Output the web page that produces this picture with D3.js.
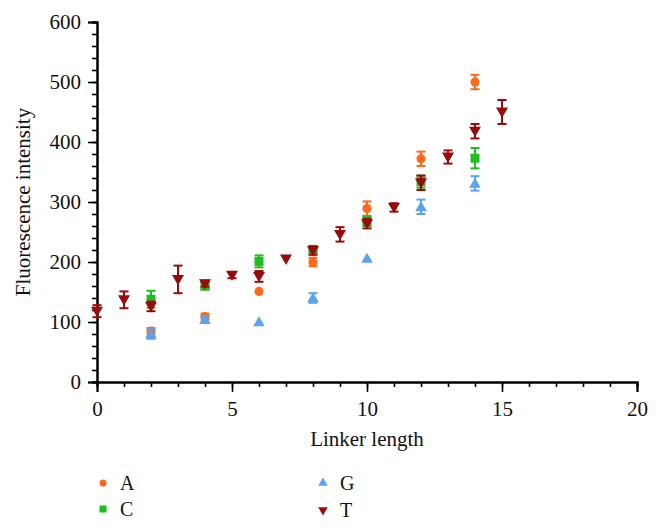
<!DOCTYPE html>
<html>
<head>
<meta charset="utf-8">
<script src="https://cdn.jsdelivr.net/npm/d3@7"></script>
<style>
  html, body { margin: 0; padding: 0; background: #fff; }
  svg { display: block; }
  text { font-family: "Liberation Serif", "DejaVu Serif", serif; fill: #111; }
</style>
</head>
<body>
<script>
// ---- data ----
const seriesNames = ["A", "C", "G", "T"];
const xACG = [2, 4, 6, 8, 10, 12, 14];
const xT = [0, 1, 2, 3, 4, 5, 6, 7, 8, 9, 10, 11, 12, 13, 14, 15];
const valA = [85, 109, 151, 200, 289, 372, 500];
const errA = [5, 5, 0, 7, 12, 12, 12];
const valC = [138, 160, 201, 221, 268, 334, 373];
const errC = [14, 6, 10, 5, 8, 10, 17];
const valG = [80, 104, 100, 140, 206, 292, 331];
const errG = [8, 5, 0, 8, 0, 12, 12];
const valT = [118, 137, 126, 171, 164, 178, 176, 205, 219, 246, 264, 291, 332, 375, 418, 450];
const errT = [10, 14, 8, 23, 5, 5, 9, 0, 7, 12, 8, 7, 12, 11, 12, 20];
const xTicks = [0, 5, 10, 15, 20];
const yTicks = [0, 100, 200, 300, 400, 500, 600];
const xLabel = "Linker length";
const yLabel = "Fluorescence intensity";

const colors = { A: "#ff6a1a", C: "#1fbd1f", G: "#5aa4ef", T: "#990a0a" };
const shapes = { A: d3.symbolCircle, C: d3.symbolSquare, G: d3.symbolTriangle, T: d3.symbolTriangle };
const rotate = { A: 0, C: 0, G: 0, T: 180 };
const sizes = { A: 66, C: 81, G: 58, T: 62 };

const series = [
  { name: "A", xs: xACG, vals: valA, errs: errA },
  { name: "C", xs: xACG, vals: valC, errs: errC },
  { name: "G", xs: xACG, vals: valG, errs: errG },
  { name: "T", xs: xT, vals: valT, errs: errT }
];

const W = 662, H = 529;
const m = { left: 97, top: 22 };
const svg = d3.select("body").append("svg").attr("width", W).attr("height", H);

const x = d3.scaleLinear().domain([0, 20]).range([m.left, 637]);
const y = d3.scaleLinear().domain([0, 600]).range([382, m.top]);

const gx = svg.append("g").attr("transform", `translate(0,${y(0)})`);
gx.call(d3.axisBottom(x).tickValues(d3.range(0, 21, 1)).tickSize(5).tickFormat(""));
gx.append("g").call(d3.axisBottom(x).tickValues(xTicks).tickSize(10).tickFormat(d3.format("d")));
gx.selectAll(".domain").attr("stroke", "#000").attr("stroke-width", 2);
gx.selectAll(".tick line").attr("stroke", "#000").attr("stroke-width", 1.6);
gx.selectAll(".tick text").attr("font-size", 21).attr("fill", "#111").attr("dy", "1em")
  .attr("font-family", "Liberation Serif, serif");

const gy = svg.append("g").attr("transform", `translate(${x(0)},0)`);
gy.call(d3.axisLeft(y).tickValues(d3.range(0, 601, 20)).tickSize(5).tickFormat(""));
gy.append("g").call(d3.axisLeft(y).tickValues(yTicks).tickSize(9).tickPadding(7).tickFormat(d3.format("d")));
gy.selectAll(".domain").attr("stroke", "#000").attr("stroke-width", 2);
gy.selectAll(".tick line").attr("stroke", "#000").attr("stroke-width", 1.6);
gy.selectAll(".tick text").attr("font-size", 21).attr("fill", "#111")
  .attr("font-family", "Liberation Serif, serif");

svg.append("text").attr("x", (x(0) + x(20)) / 2).attr("y", 446)
  .attr("text-anchor", "middle").attr("font-size", 21).text(xLabel);
svg.append("text").attr("transform", `translate(30,${(y(0) + y(600)) / 2}) rotate(-90)`)
  .attr("text-anchor", "middle").attr("font-size", 21).text(yLabel);

const capW = 4.5;
series.forEach(s => {
  const g = svg.append("g");
  const col = colors[s.name];
  const pts = s.xs.map((xv, i) => ({ x: xv, v: s.vals[i], e: s.errs[i] }));
  const eb = g.selectAll("g.eb").data(pts.filter(p => p.e > 0)).join("g")
    .attr("stroke", col).attr("stroke-width", 2).attr("fill", "none");
  eb.append("line").attr("x1", d => x(d.x)).attr("x2", d => x(d.x))
    .attr("y1", d => y(d.v - d.e)).attr("y2", d => y(d.v + d.e));
  eb.append("line").attr("x1", d => x(d.x) - capW).attr("x2", d => x(d.x) + capW)
    .attr("y1", d => y(d.v + d.e)).attr("y2", d => y(d.v + d.e));
  eb.append("line").attr("x1", d => x(d.x) - capW).attr("x2", d => x(d.x) + capW)
    .attr("y1", d => y(d.v - d.e)).attr("y2", d => y(d.v - d.e));
  const sym = d3.symbol().type(shapes[s.name]).size(sizes[s.name]);
  g.selectAll("path.pt").data(pts).join("path")
    .attr("d", sym)
    .attr("transform", d => `translate(${x(d.x)},${y(d.v) + (s.name === "T" ? -1 : s.name === "G" ? 1 : 0)}) rotate(${rotate[s.name]})`)
    .attr("fill", col);
});

const legPos = { A: [103, 483], C: [103, 509], G: [323, 483], T: [323, 510] };
seriesNames.forEach(n => {
  const [lx, ly] = legPos[n];
  svg.append("path")
    .attr("d", d3.symbol().type(shapes[n]).size(n === "C" ? 49 : 40)())
    .attr("transform", `translate(${lx},${ly}) rotate(${rotate[n]})`)
    .attr("fill", colors[n]);
  svg.append("text").attr("x", lx + 17).attr("y", ly + 6.5).attr("font-size", 20).text(n);
});
</script>
</body>
</html>
